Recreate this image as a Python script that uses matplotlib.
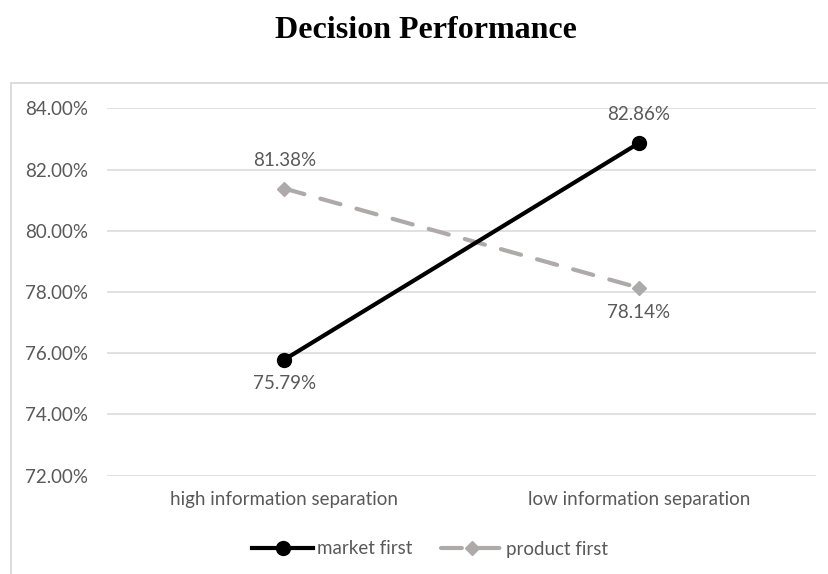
import matplotlib.pyplot as plt
from matplotlib.patches import Rectangle
from matplotlib.ticker import FuncFormatter

categories = ['high information separation', 'low information separation']
market_first = [75.79, 82.86]
product_first = [81.38, 78.14]
yticks = [72, 74, 76, 78, 80, 82, 84]

plt.rcParams['font.family'] = ['Lato', 'DejaVu Sans']
txt = '#595959'
fs = 13.5

fig = plt.figure(figsize=(8.29, 5.74), dpi=100)
fig.patches.append(Rectangle((11.5 / 829, -0.1), 1.2, (574 - 82.5) / 574 + 0.1,
                             transform=fig.transFigure, fill=False,
                             edgecolor='#d9d9d9', linewidth=1.3, zorder=0))
fig.text(426 / 829, 1 - 31 / 574, 'Decision Performance', ha='center', va='center',
         fontsize=23, fontweight='bold', family='Liberation Serif', color='black')

ax = fig.add_axes([107 / 829, 1 - 475.7 / 574, (816 - 107) / 829, (475.7 - 108.3) / 574])
x = [0, 1]
ax.plot(x, market_first, color='black', lw=3, marker='o', ms=10,
        label='market first', zorder=3)
ax.plot(x, product_first, color='#aeaaaa', lw=3, ls=(0, (5, 4)), marker='D', ms=7,
        dash_capstyle='round', label='product first', zorder=2)

ax.set_xlim(-0.5, 1.5)
ax.set_ylim(72, 84)
ax.set_yticks(yticks)
ax.yaxis.set_major_formatter(FuncFormatter(lambda v, p: f'{v:.2f}%'))
ax.set_xticks(x)
ax.set_xticklabels(categories)
ax.grid(axis='y', color='#d9d9d9', lw=1.1)
ax.set_axisbelow(True)
for s in ax.spines.values():
    s.set_visible(False)
ax.tick_params(length=0, labelsize=fs, colors=txt)
ax.tick_params(axis='y', pad=13.5)
ax.tick_params(axis='x', pad=11)

# value labels: above or below depending on which line is higher
for i in x:
    m, p = market_first[i], product_first[i]
    ax.annotate(f'{m:.2f}%', (i, m), xytext=(0, 20.5 if m > p else -17.5),
                textcoords='offset points', ha='center', va='center',
                fontsize=fs, color=txt)
    ax.annotate(f'{p:.2f}%', (i, p), xytext=(0, 20.5 if p > m else -17.5),
                textcoords='offset points', ha='center', va='center',
                fontsize=fs, color=txt)

fig.legend(loc='center', bbox_to_anchor=(430 / 829, 1 - 549 / 574), ncol=2,
           frameon=False, fontsize=fs, labelcolor=txt, handlelength=3.3,
           columnspacing=1.5, handletextpad=0.2)

fig.savefig('out.png', dpi=100)
